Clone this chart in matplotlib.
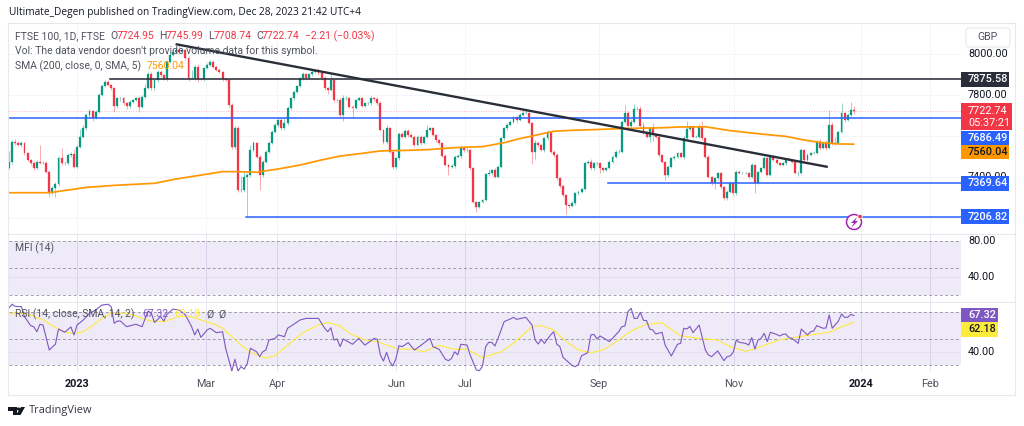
import numpy as np
import matplotlib
matplotlib.use("Agg")
import matplotlib.pyplot as plt
from matplotlib.patches import Rectangle, Polygon, Circle, FancyBboxPatch

closes = [7475,7572,7564,7554,7564,7515,7483,7466,7442,7475,
7466,7470,7425,7320,7345,7366,7491,7466,7466,7507,
7512,7450,7548,7596,7637,7702,7723,7690,7718,7800,
7844,7865,7848,7832,7746,7783,7783,7759,7746,7767,
7775,7783,7743,7792,7832,7902,7832,7873,7914,7897,
7876,7962,7995,8011,8020,8011,8020,7979,7881,7881,
7938,7876,7876,7930,7946,7963,7938,7922,7914,7876,
7873,7751,7548,7637,7336,7336,7401,7409,7531,7564,
7499,7409,7475,7523,7564,7621,7654,7678,7637,7662,
7735,7783,7816,7844,7881,7902,7881,7902,7914,7918,
7906,7881,7832,7824,7873,7775,7775,7702,7783,7783,
7743,7735,7775,7783,7747,7759,7759,7783,7779,7759,
7629,7569,7637,7523,7447,7491,7610,7597,7624,7605,
7597,7556,7597,7564,7594,7629,7637,7605,7580,7564,
7502,7458,7450,7453,7499,7502,7540,7531,7531,7442,
7279,7255,7279,7287,7414,7417,7434,7401,7450,7588,
7637,7654,7670,7691,7678,7702,7711,7714,7662,7523,
7564,7556,7531,7588,7621,7523,7507,7393,7355,7312,
7263,7258,7271,7320,7328,7339,7466,7474,7442,7466,
7466,7442,7434,7442,7474,7499,7523,7523,7670,7711,
7649,7670,7730,7730,7649,7621,7597,7637,7605,7597,
7507,7474,7409,7450,7491,7499,7515,7499,7588,7632,
7645,7596,7596,7645,7588,7499,7401,7369,7393,7418,
7352,7295,7328,7369,7320,7426,7418,7418,7418,7401,
7458,7369,7426,7442,7491,7409,7502,7483,7466,7458,
7466,7486,7483,7475,7418,7418,7531,7483,7507,7515,
7518,7572,7540,7564,7540,7654,7564,7564,7621,7710,
7678,7702,7724.95,7722.74]
first_open = 7445
upper_wicks = [50,10,15,10,12,8,8,5,10,8,
80,10,10,10,10,10,12,50,8,10,
8,25,10,40,15,10,10,5,10,10,
8,8,6,6,5,8,6,5,6,8,
6,8,10,8,20,8,10,6,6,10,
5,10,10,15,5,27,10,5,10,40,
10,15,5,8,10,10,10,8,10,5,
5,5,10,10,10,70,25,8,25,10,
8,6,10,8,10,10,10,15,10,30,
10,8,8,6,6,8,5,6,6,6,
12,8,10,8,30,8,5,8,15,10,
8,10,6,8,8,8,8,10,8,10,
10,5,15,5,5,8,10,10,8,10,
8,8,6,8,5,25,5,6,6,6,
6,8,5,8,8,8,15,10,8,5,
5,5,6,6,6,20,6,8,10,8,
8,8,8,8,8,8,15,12,8,5,
15,5,5,8,8,5,8,8,5,5,
5,5,10,6,6,8,6,8,15,8,
5,5,5,8,8,6,8,15,10,40,
10,15,25,10,15,20,5,5,25,10,
5,5,5,8,8,8,8,8,10,40,
10,8,8,15,30,8,6,6,8,8,
8,5,8,10,8,10,10,8,8,5,
8,5,5,8,12,5,8,5,8,5,
8,5,8,5,5,8,10,5,8,5,
8,8,15,8,15,73,12,30,8,49,
8,8,41,21]
lower_wicks = [5,10,8,5,8,6,5,8,10,5,
5,5,8,16,8,41,10,8,6,8,
8,6,8,8,6,8,8,15,8,5,
5,5,5,6,30,8,10,10,15,8,
6,6,25,8,6,5,10,8,8,8,
5,6,5,5,8,8,6,8,15,5,
10,15,5,6,5,6,8,6,8,8,
5,10,10,10,10,10,10,194,10,10,
8,73,8,6,5,5,8,8,8,10,
8,6,8,6,6,8,6,5,8,5,
8,8,8,20,5,10,10,8,30,6,
8,48,5,6,6,8,6,8,6,6,
6,10,6,8,8,6,8,8,8,10,
8,8,6,8,5,6,5,5,8,8,
5,5,40,8,8,6,8,8,8,8,
5,25,6,8,6,8,6,6,6,8,
8,6,5,5,15,5,6,5,6,60,
35,8,5,8,6,6,8,8,10,10,
43,10,6,6,6,6,5,5,6,6,
6,25,10,6,5,6,5,5,6,5,
5,6,5,5,6,10,8,25,30,8,
8,8,25,8,5,6,6,6,10,8,
10,8,6,5,8,8,8,10,30,6,
10,8,6,6,10,8,6,6,6,6,
8,46,5,5,5,6,5,5,5,5,
5,6,5,5,6,15,5,6,5,5,
5,8,8,5,8,5,8,8,5,5,
8,5,5,14]

sma_bars = [0,13,19,25,34,47,54,62,69,74,80,87,94,101,107,114,120,129,135,144,153,160,165,170,176,181,189,200,211,217,225,233,242,251,257,263,268,273]
sma_vals = [7323,7323,7336,7349,7359,7369,7390,7409,7426,7426,7423,7439,7458,7483,7502,7515,7527,7530,7533,7543,7548,7567,7587,7603,7623,7627,7631,7637,7640,7644,7645,7626,7611,7598,7580,7567,7561,7560.04]

rsi_bars = [0,1,2,4,5,7,8,9,10,11,13,15,16,18,20,21,22,24,26,28,30,32,33,34,35,36,38,40,41,43,44,45,46,47,49,50,51,53,55,57,59,60,61,62,64,65,67,69,70,72,73,74,75,76,77,78,80,81,82,83,84,86,87,89,90,92,94,96,100,102,103,104,105,106,
107,108,111,113,115,118,119,120,121,122,123,124,125,126,127,129,131,133,136,137,139,141,142,143,144,145,146,148,149,151,152,153,154,155,156,157,158,160,162,163,164,167,169,170,171,172,173,175,176,177,178,179,182,183,184,185,187,188,189,190,191,194,197,198,199,200,201,202,203,204,205,206,207,208,209,211,212,214,216,217,
218,219,220,221,223,225,226,227,229,231,232,233,234,235,236,238,239,240,241,242,243,244,245,246,248,249,250,251,252,253,255,256,258,259,260,261,263,264,265,266,268,269,270,271,272,273]
rsi_vals = [73.2,75.8,74.2,74,66.5,59.8,59,55.2,60.8,60.2,41.5,45.8,57.2,54.8,58.8,52.8,60.2,64,69,71.5,75.2,75.8,74,61.5,63.2,63.2,59,60.2,60.8,59,65.2,70.8,69,62.2,66.5,63.2,68.2,72.2,71.5,67.8,59,52.8,57.2,51,56.5,57.8,54.5,55.2,42.8,25.8,34.5,25.8,29,27.2,31.5,42.8,40.2,36.5,40.2,41.5,49,50.2,52.8,51.5,57.8,60.8,64,65.2,65.2,57.8,55.2,58.2,49,49.8,
44,49.8,45.8,50.2,45.2,50.2,49.5,37.8,33.2,39.8,32.8,29.5,34.8,44.8,44,47,41.5,44.8,50.2,44,42,34.5,33.5,35.2,40.2,37.8,45.8,45.2,37.8,26.5,26,29.5,44,47.2,47.2,44.5,50.2,62.8,64.8,66,64.5,66,60.2,49,46,49.5,46.5,52.8,55.2,45.8,44,36,29.8,29,30.8,37.2,39.5,52.8,53.2,49.8,52,47.8,55.2,59,59.5,70.2,72.8,65.2,65.2,69.8,63.8,63.5,57.2,56.5,53.5,54.8,45.2,37,45.8,46.5,
57.8,57.2,59.2,54.5,60.2,41.5,37.8,36.5,40.8,33.5,36.5,37,39.8,49,47.2,46.5,45.2,50.8,42.2,49,50.2,54,47.8,54.8,53.2,52,53.2,53.5,50.8,50.2,46.5,57.2,52.8,55.2,55.8,59.8,57.8,58,67.8,57.8,63.2,68.5,66,66,68.2,67.32]

rsi_ma_bars = [0,2,5,8,11,14,16,19,21,24,27,30,33,37,40,43,46,50,53,55,59,62,66,69,72,75,78,81,83,86,89,92,95,100,103,107,
110,115,119,122,126,131,134,139,144,148,153,159,163,169,172,176,180,184,188,192,197,201,206,211,215,217,
223,229,233,238,243,249,254,259,265,269,273]
rsi_ma_vals = [68.2,69.2,68.8,67,64,59.8,57.2,54.5,53.8,55.2,59.8,65.2,69.2,69.2,67.8,65.2,63.2,62.8,65.2,66.8,66.5,64,61.2,57.8,51.5,45.2,39.8,37,35.5,37.2,43.2,48.8,54.5,60.2,62.2,59.5,
54,49,47.8,45.2,42.2,42,40.2,45,42,42,35.8,40.2,46.5,59,59.8,56.5,47.8,41.5,39.5,41.5,49,55.8,60.8,61.8,55.2,52.2,
50.2,49,44,40.5,44,49.2,51,52.8,54.8,59,62.18]

month_bars = [22,63.5,86.7,125.2,147.2,190.6,234.3,275.4,297.7]
month_labels = ["2023","Mar","Apr","Jun","Jul","Sep","Nov","2024","Feb"]
price_ticks = [8000,7800,7600,7400,7200]
level_black = 7875.58
level_mid = 7686.49
level_low1 = 7369.64
level_low2 = 7206.82
last_close = 7722.74
sma_last = 7560.04
trend_bars = [54.2,264.2]
trend_vals = [8047,7450]
level_black_from = 32.5
level_low1_from = 193.5
level_low2_from = 76.6
xlim_bars = (0,307.6)

GREEN="#089981"; RED="#f23645"; BLUE="#2962ff"; ORANGE="#ff9800"; DARK="#2a2e39"; PURPLE="#7e57c2"; YELLOW="#ffeb3b"
GRID="#f4f5f8"; BORDER="#e6e8ef"; TXT="#131722"; GREY="#50535e"
plt.rcParams['font.family']=['Roboto','DejaVu Sans']

W,H=1024,426
fig=plt.figure(figsize=(W/100,H/100),dpi=100,facecolor="white")
def make_ax(top,bottom):
    ax=fig.add_axes([9/W,1-bottom/H,952/W,(bottom-top)/H])
    ax.set_xlim(*xlim_bars)
    for s in ax.spines.values(): s.set_visible(False)
    ax.set_xticks([]); ax.set_yticks([])
    for m in month_bars: ax.axvline(m,color=GRID if top<200 else "#e6e4f0",lw=0.7,zorder=0)
    return ax

# main pane
ax=make_ax(23,234)
ax.set_ylim(7121.6,8151.3)
for t in price_ticks: ax.axhline(t,color=GRID,lw=0.7,zorder=0)
c=np.array(closes,float)
o=np.array([first_open]+closes[:-1],float)
hi=np.maximum(o,c)+np.array(upper_wicks)
lo=np.minimum(o,c)-np.array(lower_wicks)
x=np.arange(len(c))
col=[GREEN if a>=b else RED for a,b in zip(c,o)]
ax.vlines(x,lo,hi,colors=col,lw=0.65,alpha=0.45,zorder=2)
ax.bar(x,np.abs(c-o),bottom=np.minimum(o,c),width=0.62,color=col,linewidth=0.2,edgecolor=col,zorder=3)
ax.axhline(last_close,color=RED,lw=0.7,ls=(0,(1,1.5)),alpha=0.35,zorder=1)
ax.plot(sma_bars,sma_vals,color=ORANGE,lw=1.25,zorder=4,solid_capstyle="round")
ax.axhline(level_mid,color=BLUE,lw=1.1,zorder=5)
ax.plot([level_black_from,xlim_bars[1]],[level_black]*2,color=DARK,lw=1.15,zorder=5)
ax.plot([level_low1_from,xlim_bars[1]],[level_low1]*2,color=BLUE,lw=1.1,zorder=5)
ax.plot([level_low2_from,xlim_bars[1]],[level_low2]*2,color=BLUE,lw=1.1,zorder=5)
ax.plot(trend_bars,trend_vals,color=DARK,lw=1.7,zorder=6)

# MFI pane
axm=make_ax(235,302)
axm.set_ylim(12.2,86.7)
axm.axhspan(20,80,color=PURPLE,alpha=0.12,lw=0,zorder=0)
axm.axhline(40,color="#e3dfee",lw=0.7,zorder=1)
for v in (80,50,20): axm.axhline(v,color="#787b86",lw=0.7,ls=(0,(3,2.5)),alpha=0.7,zorder=2)

# RSI pane
axr=make_ax(302,372)
axr.set_ylim(25,77.5)
axr.axhspan(30,70,color=PURPLE,alpha=0.12,lw=0,zorder=0)
axr.axhline(40,color="#e3dfee",lw=0.7,zorder=1)
for v in (70,50,30): axr.axhline(v,color="#787b86",lw=0.7,ls=(0,(3,2.5)),alpha=0.7,zorder=2)
axr.plot(rsi_ma_bars,rsi_ma_vals,color=YELLOW,lw=0.8,zorder=3)
axr.plot(rsi_bars,rsi_vals,color=PURPLE,lw=0.8,zorder=4)

# pixel overlay
ov=fig.add_axes([0,0,1,1],zorder=10)
ov.set_xlim(0,W); ov.set_ylim(H,0); ov.axis("off"); ov.patch.set_alpha(0)
for (x0,y0,x1,y1) in [(8,23,1015,23),(8,23,8,395),(1015,23,1015,395),(8,395,1015,395),(8,234,1015,234),(8,302,1015,302)]:
    ov.plot([x0,x1],[y0,y1],color=BORDER,lw=0.8)

ov.text(9,13,"Ultimate_Degen published on TradingView.com, Dec 28, 2023 21:42 UTC+4",fontsize=7.3,color=TXT,va="center",family="Open Sans")
ov.text(15,36,"FTSE 100, 1D, FTSE",fontsize=7.5,color=GREY,va="center")
for xp,s,cc in [(110,"O",GREY),(117,"7724.95",RED),(159.5,"H",GREY),(166,"7745.99",RED),(208.5,"L",GREY),(214,"7708.74",RED),(256,"C",GREY),(262,"7722.74",RED),(305,"\u22122.21 (\u22120.03%)",RED)]:
    ov.text(xp,36,s,fontsize=7.5,color=cc,va="center")
ov.text(15,51,"Vol: The data vendor doesn't provide volume data for this symbol.",fontsize=7.5,color=GREY,va="center")
ov.text(15,66,"SMA (200, close, 0, SMA, 5)",fontsize=7.5,color=GREY,va="center")
ov.text(147,66,"7560.04",fontsize=7.5,color=ORANGE,va="center")
ov.text(15,248,"MFI (14)",fontsize=7.5,color=GREY,va="center")
ov.text(15,314,"RSI (14, close, SMA, 14, 2)",fontsize=7.5,color=GREY,va="center")
ov.text(142,314,"67.32",fontsize=7.5,color=PURPLE,va="center")
ov.text(174,314,"62.18",fontsize=7.5,color=YELLOW,va="center")
ov.text(206,314,"\u00d8",fontsize=7.5,color=GREY,va="center")
ov.text(218,314,"\u00d8",fontsize=7.5,color=GREY,va="center")

# time labels
for m,l in zip(month_bars,month_labels):
    bold=l.isdigit()
    ov.text(9+m*952/xlim_bars[1],384,l,fontsize=7.8,color=TXT if bold else GREY,ha="center",va="center",fontweight="bold" if bold else "normal")

# price axis
for y,s in [(54,"8000.00"),(95,"7800.00"),(177,"7400.00"),(241,"80.00"),(277,"40.00"),(352,"40.00")]:
    ov.text(968,y,s,fontsize=7.8,color=TXT,va="center")
ov.add_patch(FancyBboxPatch((966,28),44,19,boxstyle="round,pad=0,rounding_size=3",fc="white",ec=BORDER,lw=0.8))
ov.text(988,37.5,"GBP",fontsize=7.6,color=GREY,ha="center",va="center")
for y0,y1,x1,bg,fg,s in [(72,87,1009,DARK,"white","7875.58"),(131,145,1009,BLUE,"white","7686.49"),(145,159,1009,ORANGE,TXT,"7560.04"),(176,191,1009,BLUE,"white","7369.64"),(209,224,1009,BLUE,"white","7206.82"),(308,322,998,PURPLE,"white","67.32"),(322,337,998,YELLOW,TXT,"62.18")]:
    ov.add_patch(Rectangle((961,y0),x1-961,y1-y0,fc=bg,ec="none",zorder=3))
    ov.text(968,(y0+y1)/2,s,fontsize=7.8,color=fg,va="center",fontweight="medium",zorder=4)
ov.add_patch(Rectangle((961,103),51,27,fc=RED,ec="none",zorder=3))
ov.text(968,111,"7722.74",fontsize=7.8,color="white",va="center",zorder=4)
ov.text(968,123,"05:37:21",fontsize=7.8,color="white",va="center",zorder=4)

# icon
ov.add_patch(Circle((854,222),7.5,fc="white",ec="#9c27b0",lw=1.1,zorder=5))
ov.add_patch(Polygon([(857,217),(851,223),(854,223),(851,228),(858,221),(855,221)],fc="#9c27b0",ec="none",zorder=6))
ov.add_patch(Circle((860,216.5),2.2,fc=RED,ec="white",lw=0.5,zorder=7))

# logo
ov.add_patch(Polygon([(8,407),(17,407),(17,415),(13,415),(13,411),(8,411)],fc=TXT,ec="none"))
ov.add_patch(Circle((18.5,409),1.6,fc=TXT,ec="none"))
ov.add_patch(Polygon([(21,407),(25,407),(20.5,415),(16,415)],fc=TXT,ec="none"))
ov.text(29,411,"TradingView",fontsize=7.9,color="#333640",va="center",family="Open Sans")

fig.savefig("out.png",dpi=100)
